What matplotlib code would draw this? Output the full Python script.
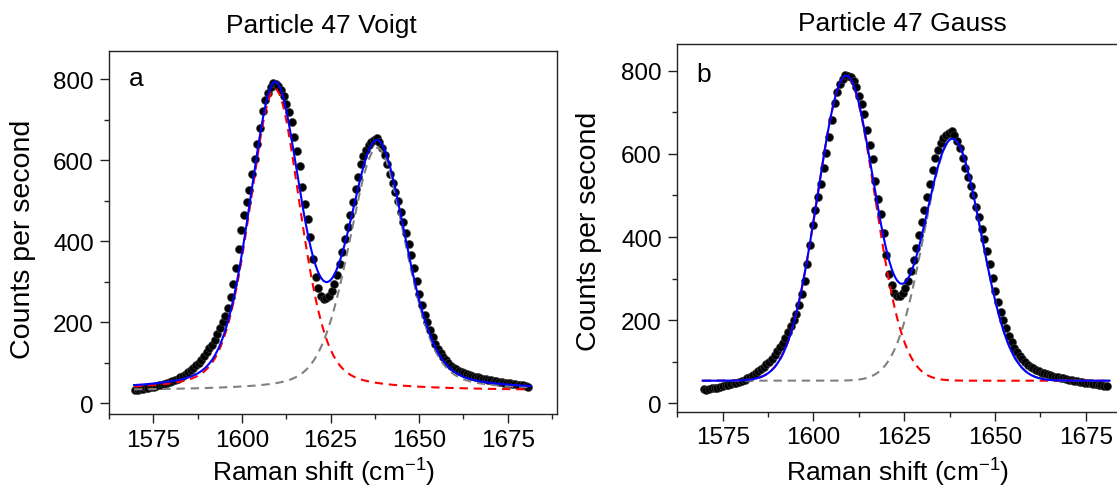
import numpy as np
import matplotlib
matplotlib.use("Agg")
import matplotlib.pyplot as plt
from matplotlib.ticker import MultipleLocator

plt.rcParams["font.family"] = ["Liberation Sans", "DejaVu Sans"]
plt.rcParams["mathtext.fontset"] = "custom"
plt.rcParams["mathtext.rm"] = "Liberation Sans"
plt.rcParams["mathtext.it"] = "Liberation Sans:italic"

# Measured spectrum of particle 47 (counts per second), sampled every 0.75 cm-1
shift_start = 1569.8
shift_step = 0.75
counts = [
    34, 33, 35, 36, 37, 38, 40, 41, 43, 44,
    46, 48, 50, 52, 55, 57, 61, 64, 68, 72,
    77, 82, 87, 94, 100, 107, 116, 126, 136, 145,
    157, 171, 186, 201, 216, 236, 262, 295, 335, 380,
    428, 465, 497, 527, 565, 603, 640, 681, 722, 748,
    767, 780, 790, 788, 784, 774, 760, 738, 720, 695,
    657, 622, 587, 535, 492, 455, 410, 356, 311, 284,
    266, 258, 259, 266, 278, 294, 318, 345, 374, 405,
    436, 465, 497, 528, 560, 590, 610, 625, 637, 645,
    651, 654, 646, 630, 613, 590, 565, 545, 522, 500,
    473, 447, 420, 394, 366, 335, 302, 270, 243, 219,
    200, 182, 163, 147, 134, 123, 114, 106, 99, 93,
    88, 84, 80, 77, 74, 72, 70, 68, 66, 64,
    63, 61, 60, 58, 57, 56, 55, 53, 52, 51,
    50, 49, 48, 47, 46, 45, 44, 42, 41,
]
raman_shift = shift_start + shift_step * np.arange(len(counts))

# Two-band fit results: centre (cm-1), FWHM (cm-1), height (cps), Lorentzian fraction
voigt_centers = [1609.3, 1638.2]
voigt_fwhm = [17.0, 19.0]
voigt_heights = [745.0, 600.0]
voigt_eta = [0.32, 0.30]
voigt_baseline = 31.0

gauss_centers = [1609.0, 1638.3]
gauss_fwhm = [18.6, 18.6]
gauss_heights = [733.0, 581.0]
gauss_eta = [0.0, 0.0]
gauss_baseline = 54.5

fit_start, fit_end = 1569.5, 1681.5

panel_titles = ["Particle 47 Voigt", "Particle 47 Gauss"]
panel_letters = ["a", "b"]


def band(x, center, fwhm, height, eta):
    u = (x - center) / (fwhm / 2.0)
    gauss = np.exp(-np.log(2.0) * u ** 2)
    lorentz = 1.0 / (1.0 + u ** 2)
    return height * ((1.0 - eta) * gauss + eta * lorentz)


W, H = 1117, 489
fig = plt.figure(figsize=(W / 100, H / 100), dpi=100)


def px_axes(left, top, right, bottom):
    return fig.add_axes([left / W, 1 - bottom / H, (right - left) / W, (bottom - top) / H])


ax_v = px_axes(108.5, 52.0, 556.5, 415.0)
ax_g = px_axes(676.5, 45.0, 1136.0, 412.7)

x_fit = np.linspace(fit_start, fit_end, 600)

panels = [
    (ax_v, voigt_centers, voigt_fwhm, voigt_heights, voigt_eta, voigt_baseline, (-26.5, 870)),
    (ax_g, gauss_centers, gauss_fwhm, gauss_heights, gauss_eta, gauss_baseline, (-20, 864)),
]

for ax, cen, fw, hts, eta, base, ylim in panels:
    ax.plot(raman_shift, counts, "o", color="black", ms=5.8, mew=0.4,
            mec="#444444", zorder=2)
    comp1 = base + band(x_fit, cen[0], fw[0], hts[0], eta[0])
    comp2 = base + band(x_fit, cen[1], fw[1], hts[1], eta[1])
    total = comp1 + comp2 - base
    ax.plot(x_fit, comp1, color="#ff0000", lw=1.5, ls=(0, (4, 2.8)), zorder=3)
    ax.plot(x_fit, comp2, color="#808080", lw=1.5, ls=(0, (4, 2.8)), zorder=3)
    ax.plot(x_fit, total, color="#0000ff", lw=1.5, zorder=4)

    ax.set_xlim(1562.3, 1688.8)
    ax.set_ylim(*ylim)
    ax.xaxis.set_major_locator(MultipleLocator(25))
    ax.xaxis.set_minor_locator(MultipleLocator(12.5))
    ax.yaxis.set_major_locator(MultipleLocator(200))
    ax.yaxis.set_minor_locator(MultipleLocator(100))
    ax.tick_params(which="both", direction="out", top=False, right=False,
                   labelsize=17.5, width=1.0, color="#222222")
    ax.tick_params(which="major", length=6.5, pad=4)
    ax.tick_params(which="minor", length=3.5)
    for sp in ax.spines.values():
        sp.set_linewidth(1.0)
        sp.set_color("#222222")

ax_v.text(0.0446, 0.906, panel_letters[0], transform=ax_v.transAxes,
          fontsize=19, va="baseline", ha="left")
ax_g.text(0.044, 0.900, panel_letters[1], transform=ax_g.transAxes,
          fontsize=19, va="baseline", ha="left")

xlabel = r"Raman shift (cm$^{\mathregular{-1}}$)"
fig.text(321 / W, 1 - 33.3 / H, panel_titles[0], fontsize=19, ha="center", va="baseline")
fig.text(902 / W, 1 - 30.7 / H, panel_titles[1], fontsize=19, ha="center", va="baseline")
fig.text(324 / W, 1 - 482 / H, xlabel, fontsize=19, ha="center", va="baseline")
fig.text(898 / W, 1 - 482 / H, xlabel, fontsize=19, ha="center", va="baseline")
fig.text(23 / W, 1 - 239 / H, "Counts per second", fontsize=20.5, rotation=90,
         ha="center", va="center")
fig.text(589 / W, 1 - 231.5 / H, "Counts per second", fontsize=20.5, rotation=90,
         ha="center", va="center")

fig.savefig("out.png", dpi=100)
